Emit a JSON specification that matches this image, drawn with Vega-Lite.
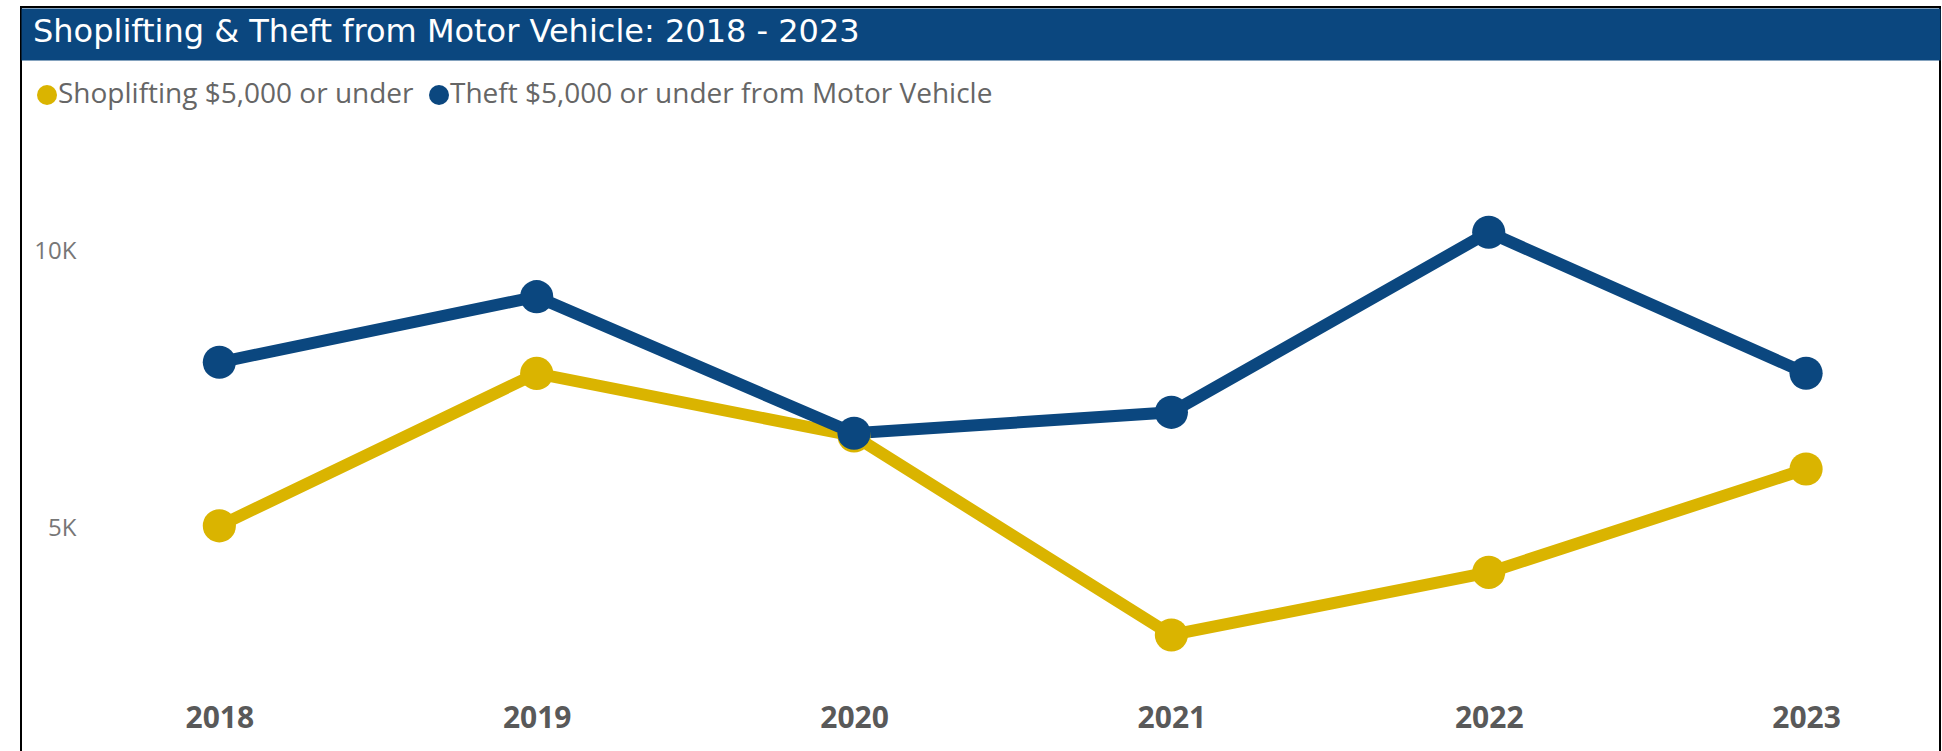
{
  "$schema": "https://vega.github.io/schema/vega-lite/v6.json",
  "width": 1919,
  "height": 749,
  "autosize": {"type": "none"},
  "padding": {"left": 21, "top": 7, "right": 2, "bottom": -5},
  "background": "white",
  "config": {"view": {"stroke": "black", "strokeWidth": 2}},
  "title": {
    "text": "Shoplifting & Theft from Motor Vehicle: 2018 - 2023",
    "anchor": "start",
    "frame": "group",
    "offset": -67,
    "dx": 12,
    "color": "white",
    "fontSize": 32,
    "font": "DejaVu Sans",
    "fontWeight": "normal",
    "baseline": "alphabetic",
    "zindex": 1
  },
  "data": {
    "values": [
      {"year": 2018, "series": "Shoplifting $5,000 or under", "value": 5040},
      {"year": 2019, "series": "Shoplifting $5,000 or under", "value": 7800},
      {"year": 2020, "series": "Shoplifting $5,000 or under", "value": 6667},
      {"year": 2021, "series": "Shoplifting $5,000 or under", "value": 3062},
      {"year": 2022, "series": "Shoplifting $5,000 or under", "value": 4197},
      {"year": 2023, "series": "Shoplifting $5,000 or under", "value": 6069},
      {"year": 2018, "series": "Theft $5,000 or under from Motor Vehicle", "value": 8002},
      {"year": 2019, "series": "Theft $5,000 or under from Motor Vehicle", "value": 9190},
      {"year": 2020, "series": "Theft $5,000 or under from Motor Vehicle", "value": 6716},
      {"year": 2021, "series": "Theft $5,000 or under from Motor Vehicle", "value": 7096},
      {"year": 2022, "series": "Theft $5,000 or under from Motor Vehicle", "value": 10357},
      {"year": 2023, "series": "Theft $5,000 or under from Motor Vehicle", "value": 7803}
    ]
  },
  "encoding": {
    "y": {
      "field": "value",
      "type": "quantitative",
      "scale": {"domain": [870, 14438], "nice": false, "zero": false},
      "axis": {
        "values": [5000, 10000],
        "labelExpr": "datum.value / 1000 + 'K'",
        "domain": false,
        "ticks": false,
        "grid": false,
        "title": null,
        "offset": -55,
        "labelPadding": 0,
        "labelFont": "Open Sans",
        "labelFontSize": 24,
        "labelColor": "#777777"
      }
    },
    "color": {
      "field": "series",
      "type": "nominal",
      "scale": {
        "domain": ["Shoplifting $5,000 or under", "Theft $5,000 or under from Motor Vehicle"],
        "range": ["#DAB400", "#0B477F"]
      },
      "legend": {
        "orient": "none",
        "legendX": 12,
        "legendY": 74,
        "direction": "horizontal",
        "title": null,
        "symbolType": "circle",
        "symbolSize": 400,
        "symbolStrokeWidth": 0,
        "labelFont": "Open Sans",
        "labelFontSize": 28,
        "labelColor": "#666666",
        "labelOffset": -3,
        "columnPadding": 11,
        "labelLimit": 0
      }
    }
  },
  "layer": [
    {
      "mark": {"type": "line", "strokeWidth": 12},
      "encoding": {
        "x": {
          "field": "year",
          "type": "quantitative",
          "scale": {"domain": [2017.375, 2023.422], "nice": false, "zero": false},
          "axis": {
            "orient": "bottom",
            "values": [2018, 2019, 2020, 2021, 2022, 2023],
            "format": "d",
            "domain": false,
            "ticks": false,
            "grid": false,
            "title": null,
            "offset": -38,
            "labelPadding": 0,
            "labelBaseline": "middle",
            "labelFont": "Noto Sans",
            "labelFontWeight": "bold",
            "labelFontSize": 30,
            "labelColor": "#595959"
          }
        }
      }
    },
    {
      "mark": {"type": "point", "filled": true, "size": 1100, "opacity": 1},
      "encoding": {
        "x": {
          "field": "year",
          "type": "quantitative",
          "scale": {"domain": [2017.375, 2023.422], "nice": false, "zero": false},
          "axis": {
            "orient": "top",
            "labels": false,
            "ticks": false,
            "grid": false,
            "title": null,
            "domain": true,
            "domainColor": "#0B477F",
            "domainWidth": 52,
            "domainCap": "butt",
            "offset": -27
          }
        }
      }
    }
  ],
  "resolve": {"axis": {"x": "independent"}}
}
